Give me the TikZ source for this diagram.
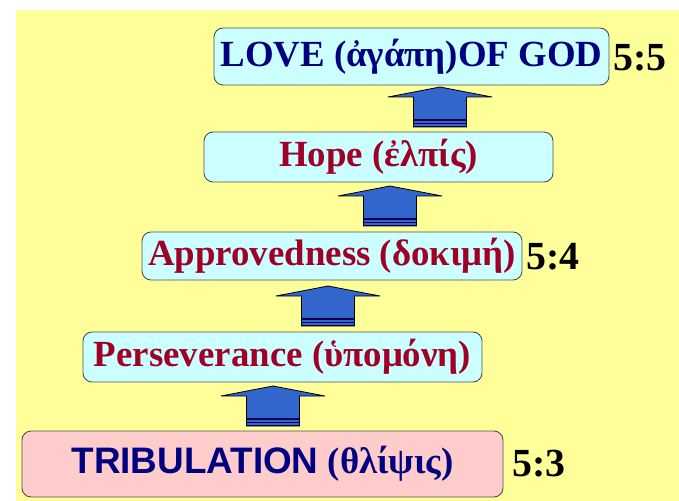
\documentclass[tikz,border=0pt]{standalone}
\usepackage{fontspec}
\setmainfont{Liberation Serif}
\setsansfont{Liberation Sans}
\definecolor{bgyellow}{RGB}{255,255,153}
\definecolor{boxcyan}{RGB}{204,255,255}
\definecolor{boxpink}{RGB}{255,204,204}
\definecolor{navytext}{RGB}{0,0,128}
\definecolor{redtext}{RGB}{160,0,40}
\definecolor{arrowblue}{RGB}{51,102,204}
\definecolor{boxline}{RGB}{80,80,80}
\tikzset{
  x=1bp, y=-1bp,
  stagebox/.style={draw=boxline, line width=0.9bp, rounded corners=9bp, inner sep=0pt,
    font=\fontsize{37}{42}\selectfont\bfseries, anchor=center},
  cyanbox/.style={stagebox, fill=boxcyan},
  pinkbox/.style={stagebox, fill=boxpink},
  verselabel/.style={font=\fontsize{40}{44}\selectfont\bfseries, text=black, inner sep=0pt, anchor=center},
  blockarrow/.pic={
    \filldraw[fill=arrowblue, draw=black, line width=0.8bp]
      (-26.5,0) -- (-26.5,-30) -- (-52,-30) -- (0,-40) -- (52,-30) -- (26.5,-30) -- (26.5,0) -- cycle;
    \draw[navytext!60!black, line width=1.1bp] (-26.5,-3.5) -- (26.5,-3.5);
    \draw[navytext!60!black, line width=1.1bp] (-26.5,-7) -- (26.5,-7);
    \draw[navytext!60!black, line width=1.1bp] (-26.5,-0.3) -- (26.5,-0.3);
  }
}
\begin{document}
\begin{tikzpicture}
\useasboundingbox (0,0) rectangle (679,501);
\fill[bgyellow] (16,10) rectangle (679,501);

\node[cyanbox, minimum width=395bp, minimum height=57bp, text=navytext] (love) at (411.5,56.5) {\raisebox{-2bp}{LOVE (ἀγάπη)OF GOD}};
\node[cyanbox, minimum width=349bp, minimum height=50bp, text=redtext] (hope) at (378.5,157) {\raisebox{-2bp}{Hope (ἐλπίς)}};
\node[cyanbox, minimum width=380bp, minimum height=48bp, text=redtext] (appr) at (332,256) {\raisebox{-2bp}{Approvedness (δοκιμή)}};
\node[cyanbox, minimum width=399bp, minimum height=50bp, text=redtext] (pers) at (282.5,357) {\raisebox{-2bp}{Perseverance (ὑπομόνη)}};
\node[pinkbox, minimum width=481bp, minimum height=66bp, text=navytext] (trib) at (262.5,464) {\raisebox{-2bp}{{\sffamily TRIBULATION} (θλίψις)}};

\node[verselabel] (v55) at (640,58) {5:5};
\node[verselabel] (v54) at (553,257) {5:4};
\node[verselabel] (v53) at (539,464) {5:3};

\pic (a1) at (440,127) {blockarrow};
\pic (a2) at (390,226) {blockarrow};
\pic (a3) at (328,326) {blockarrow};
\pic (a4) at (273,426) {blockarrow};
\end{tikzpicture}
\end{document}
